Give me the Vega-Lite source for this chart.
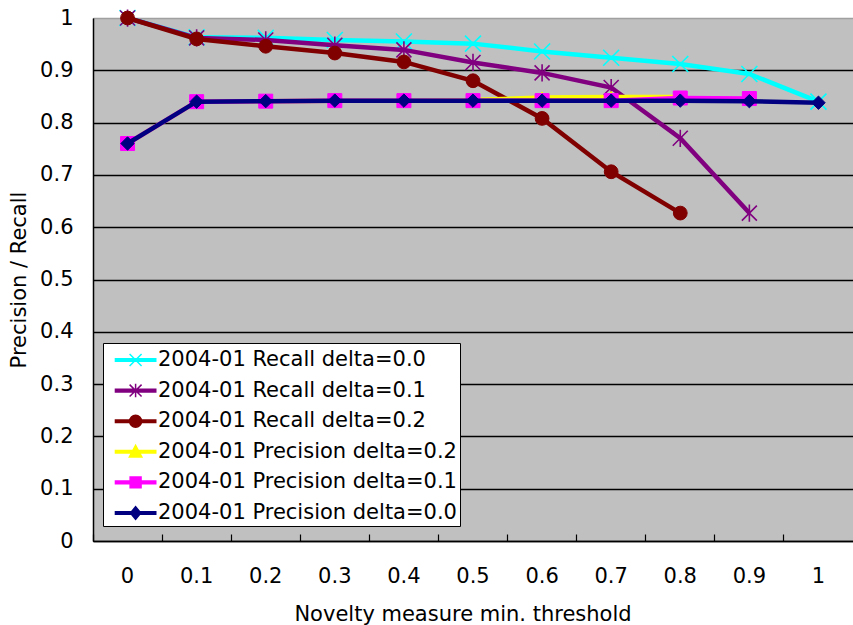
{
  "$schema": "https://vega.github.io/schema/vega-lite/v6.json",
  "width": 760,
  "height": 523,
  "autosize": "none",
  "padding": {"left": 93, "top": 18, "right": 0, "bottom": 84},
  "background": "#FFFFFF",
  "config": {
    "view": {"fill": "#C0C0C0", "stroke": "#808080", "strokeWidth": 1},
    "font": "DejaVu Sans"
  },
  "data": {
    "values": [
      {"series": "2004-01 Recall delta=0.0", "threshold": "0", "value": 1.0},
      {"series": "2004-01 Recall delta=0.0", "threshold": "0.1", "value": 0.963},
      {"series": "2004-01 Recall delta=0.0", "threshold": "0.2", "value": 0.962},
      {"series": "2004-01 Recall delta=0.0", "threshold": "0.3", "value": 0.958},
      {"series": "2004-01 Recall delta=0.0", "threshold": "0.4", "value": 0.955},
      {"series": "2004-01 Recall delta=0.0", "threshold": "0.5", "value": 0.951},
      {"series": "2004-01 Recall delta=0.0", "threshold": "0.6", "value": 0.936},
      {"series": "2004-01 Recall delta=0.0", "threshold": "0.7", "value": 0.924},
      {"series": "2004-01 Recall delta=0.0", "threshold": "0.8", "value": 0.912},
      {"series": "2004-01 Recall delta=0.0", "threshold": "0.9", "value": 0.893},
      {"series": "2004-01 Recall delta=0.0", "threshold": "1", "value": 0.840},
      {"series": "2004-01 Recall delta=0.1", "threshold": "0", "value": 1.0},
      {"series": "2004-01 Recall delta=0.1", "threshold": "0.1", "value": 0.962},
      {"series": "2004-01 Recall delta=0.1", "threshold": "0.2", "value": 0.958},
      {"series": "2004-01 Recall delta=0.1", "threshold": "0.3", "value": 0.948},
      {"series": "2004-01 Recall delta=0.1", "threshold": "0.4", "value": 0.939},
      {"series": "2004-01 Recall delta=0.1", "threshold": "0.5", "value": 0.915},
      {"series": "2004-01 Recall delta=0.1", "threshold": "0.6", "value": 0.895},
      {"series": "2004-01 Recall delta=0.1", "threshold": "0.7", "value": 0.867},
      {"series": "2004-01 Recall delta=0.1", "threshold": "0.8", "value": 0.770},
      {"series": "2004-01 Recall delta=0.1", "threshold": "0.9", "value": 0.627},
      {"series": "2004-01 Recall delta=0.2", "threshold": "0", "value": 1.0},
      {"series": "2004-01 Recall delta=0.2", "threshold": "0.1", "value": 0.960},
      {"series": "2004-01 Recall delta=0.2", "threshold": "0.2", "value": 0.946},
      {"series": "2004-01 Recall delta=0.2", "threshold": "0.3", "value": 0.933},
      {"series": "2004-01 Recall delta=0.2", "threshold": "0.4", "value": 0.916},
      {"series": "2004-01 Recall delta=0.2", "threshold": "0.5", "value": 0.880},
      {"series": "2004-01 Recall delta=0.2", "threshold": "0.6", "value": 0.808},
      {"series": "2004-01 Recall delta=0.2", "threshold": "0.7", "value": 0.706},
      {"series": "2004-01 Recall delta=0.2", "threshold": "0.8", "value": 0.627},
      {"series": "2004-01 Precision delta=0.2", "threshold": "0", "value": 0.760},
      {"series": "2004-01 Precision delta=0.2", "threshold": "0.1", "value": 0.840},
      {"series": "2004-01 Precision delta=0.2", "threshold": "0.2", "value": 0.841},
      {"series": "2004-01 Precision delta=0.2", "threshold": "0.3", "value": 0.842},
      {"series": "2004-01 Precision delta=0.2", "threshold": "0.4", "value": 0.842},
      {"series": "2004-01 Precision delta=0.2", "threshold": "0.5", "value": 0.843},
      {"series": "2004-01 Precision delta=0.2", "threshold": "0.6", "value": 0.848},
      {"series": "2004-01 Precision delta=0.2", "threshold": "0.7", "value": 0.849},
      {"series": "2004-01 Precision delta=0.2", "threshold": "0.8", "value": 0.849},
      {"series": "2004-01 Precision delta=0.1", "threshold": "0", "value": 0.760},
      {"series": "2004-01 Precision delta=0.1", "threshold": "0.1", "value": 0.840},
      {"series": "2004-01 Precision delta=0.1", "threshold": "0.2", "value": 0.841},
      {"series": "2004-01 Precision delta=0.1", "threshold": "0.3", "value": 0.842},
      {"series": "2004-01 Precision delta=0.1", "threshold": "0.4", "value": 0.842},
      {"series": "2004-01 Precision delta=0.1", "threshold": "0.5", "value": 0.842},
      {"series": "2004-01 Precision delta=0.1", "threshold": "0.6", "value": 0.842},
      {"series": "2004-01 Precision delta=0.1", "threshold": "0.7", "value": 0.842},
      {"series": "2004-01 Precision delta=0.1", "threshold": "0.8", "value": 0.847},
      {"series": "2004-01 Precision delta=0.1", "threshold": "0.9", "value": 0.846},
      {"series": "2004-01 Precision delta=0.0", "threshold": "0", "value": 0.760},
      {"series": "2004-01 Precision delta=0.0", "threshold": "0.1", "value": 0.840},
      {"series": "2004-01 Precision delta=0.0", "threshold": "0.2", "value": 0.841},
      {"series": "2004-01 Precision delta=0.0", "threshold": "0.3", "value": 0.842},
      {"series": "2004-01 Precision delta=0.0", "threshold": "0.4", "value": 0.842},
      {"series": "2004-01 Precision delta=0.0", "threshold": "0.5", "value": 0.842},
      {"series": "2004-01 Precision delta=0.0", "threshold": "0.6", "value": 0.842},
      {"series": "2004-01 Precision delta=0.0", "threshold": "0.7", "value": 0.842},
      {"series": "2004-01 Precision delta=0.0", "threshold": "0.8", "value": 0.842},
      {"series": "2004-01 Precision delta=0.0", "threshold": "0.9", "value": 0.841},
      {"series": "2004-01 Precision delta=0.0", "threshold": "1", "value": 0.838}
    ]
  },
  "encoding": {
    "x": {
      "field": "threshold",
      "type": "ordinal",
      "scale": {"type": "band", "domain": ["0", "0.1", "0.2", "0.3", "0.4", "0.5", "0.6", "0.7", "0.8", "0.9", "1"], "paddingInner": 0, "paddingOuter": 0},
      "axis": {
        "title": "Novelty measure min. threshold",
        "labelAngle": 0,
        "bandPosition": 0,
        "ticks": true,
        "tickSize": -7,
        "tickColor": "#000000",
        "tickWidth": 1.2,
        "labelPadding": 31,
        "labelFont": "DejaVu Sans",
        "labelFontSize": 21,
        "labelColor": "#000000",
        "domainColor": "#000000",
        "domainWidth": 1.5,
        "grid": false,
        "titleFont": "DejaVu Sans",
        "titleFontSize": 21,
        "titleFontWeight": "normal",
        "titleColor": "#000000",
        "titleX": 369.5,
        "titleY": 62
      }
    },
    "y": {
      "field": "value",
      "type": "quantitative",
      "scale": {"domain": [0, 1], "nice": false, "zero": true},
      "axis": {
        "title": "Precision / Recall",
        "values": [0, 0.1, 0.2, 0.3, 0.4, 0.5, 0.6, 0.7, 0.8, 0.9, 1],
        "format": ".1~f",
        "grid": true,
        "gridColor": {"condition": {"test": "datum.value >= 0.99", "value": "#A0A0A0"}, "value": "#000000"},
        "gridWidth": 1.3,
        "ticks": false,
        "labelPadding": 20,
        "labelFont": "DejaVu Sans",
        "labelFontSize": 21,
        "labelColor": "#000000",
        "domainColor": "#000000",
        "domainWidth": 1.5,
        "titleFont": "DejaVu Sans",
        "titleFontSize": 21,
        "titleFontWeight": "normal",
        "titleColor": "#000000",
        "titlePadding": 10
      }
    }
  },
  "layer": [
    {"transform": [{"filter": "datum.series === '2004-01 Recall delta=0.0'"}], "mark": {"type": "line", "color": "#00FFFF", "strokeWidth": 4.5}},
    {"transform": [{"filter": "datum.series === '2004-01 Recall delta=0.0'"}], "mark": {"type": "point", "shape": "M-1,-1L1,1M-1,1L1,-1", "filled": false, "stroke": "#00FFFF", "strokeWidth": 1.6, "size": 256, "opacity": 1}},
    {"transform": [{"filter": "datum.series === '2004-01 Recall delta=0.1'"}], "mark": {"type": "line", "color": "#800080", "strokeWidth": 4.5}},
    {"transform": [{"filter": "datum.series === '2004-01 Recall delta=0.1'"}], "mark": {"type": "point", "shape": "M-1,-1L1,1M-1,1L1,-1M0,-1.15L0,1.15", "filled": false, "stroke": "#800080", "strokeWidth": 1.6, "size": 225, "opacity": 1}},
    {"transform": [{"filter": "datum.series === '2004-01 Recall delta=0.2'"}], "mark": {"type": "line", "color": "#800000", "strokeWidth": 4.5}},
    {"transform": [{"filter": "datum.series === '2004-01 Recall delta=0.2'"}], "mark": {"type": "point", "shape": "circle", "filled": true, "fill": "#800000", "stroke": "#800000", "strokeWidth": 1, "size": 190, "opacity": 1}},
    {"transform": [{"filter": "datum.series === '2004-01 Precision delta=0.2'"}], "mark": {"type": "line", "color": "#FFFF00", "strokeWidth": 4.5}},
    {"transform": [{"filter": "datum.series === '2004-01 Precision delta=0.2'"}], "mark": {"type": "point", "shape": "triangle-up", "filled": true, "fill": "#FFFF00", "stroke": "#FFFF00", "strokeWidth": 1, "size": 170, "opacity": 1}},
    {"transform": [{"filter": "datum.series === '2004-01 Precision delta=0.1'"}], "mark": {"type": "line", "color": "#FF00FF", "strokeWidth": 4.5}},
    {"transform": [{"filter": "datum.series === '2004-01 Precision delta=0.1'"}], "mark": {"type": "point", "shape": "square", "filled": true, "fill": "#FF00FF", "stroke": "#FF00FF", "strokeWidth": 1, "size": 196, "opacity": 1}},
    {"transform": [{"filter": "datum.series === '2004-01 Precision delta=0.0'"}], "mark": {"type": "line", "color": "#000080", "strokeWidth": 4.5}},
    {"transform": [{"filter": "datum.series === '2004-01 Precision delta=0.0'"}], "mark": {"type": "point", "shape": "diamond", "filled": true, "fill": "#000080", "stroke": "#000080", "strokeWidth": 1, "size": 180, "opacity": 1}},
    {
      "transform": [{"filter": "false"}],
      "mark": {"type": "point", "filled": true, "opacity": 1, "strokeWidth": 1.5},
      "encoding": {
        "fill": {
          "field": "series", "type": "nominal",
          "scale": {
            "domain": ["2004-01 Recall delta=0.0", "2004-01 Recall delta=0.1", "2004-01 Recall delta=0.2", "2004-01 Precision delta=0.2", "2004-01 Precision delta=0.1", "2004-01 Precision delta=0.0"],
            "range": ["#00FFFF", "#800080", "#800000", "#FFFF00", "#FF00FF", "#000080"]
          },
          "legend": {"title": null, "orient": "none", "legendX": 10, "legendY": 325, "fillColor": "#FFFFFF", "strokeColor": "#000000", "padding": 3, "rowPadding": 6.6, "symbolSize": 676, "symbolStrokeWidth": 1.5, "labelOffset": 24, "labelFont": "DejaVu Sans", "labelFontSize": 21, "labelColor": "#000000", "labelLimit": 500, "labelExpr": "datum.label + '\u00a0\u00a0'"}
        },
        "stroke": {
          "field": "series", "type": "nominal",
          "scale": {
            "domain": ["2004-01 Recall delta=0.0", "2004-01 Recall delta=0.1", "2004-01 Recall delta=0.2", "2004-01 Precision delta=0.2", "2004-01 Precision delta=0.1", "2004-01 Precision delta=0.0"],
            "range": ["#00FFFF", "#800080", "#800000", "#FFFF00", "#FF00FF", "#000080"]
          },
          "legend": {"title": null, "orient": "none", "legendX": 10, "legendY": 325, "fillColor": "#FFFFFF", "strokeColor": "#000000", "padding": 3, "rowPadding": 6.6, "symbolSize": 676, "symbolStrokeWidth": 1.5, "labelOffset": 24, "labelFont": "DejaVu Sans", "labelFontSize": 21, "labelColor": "#000000", "labelLimit": 500, "labelExpr": "datum.label + '\u00a0\u00a0'"}
        },
        "shape": {
          "field": "series", "type": "nominal",
          "scale": {
            "domain": ["2004-01 Recall delta=0.0", "2004-01 Recall delta=0.1", "2004-01 Recall delta=0.2", "2004-01 Precision delta=0.2", "2004-01 Precision delta=0.1", "2004-01 Precision delta=0.0"],
            "range": [
              "M-0.35,-0.1H2.75V0.1H-0.35Z M0.74,-0.46L1.66,0.46M0.74,0.46L1.66,-0.46",
              "M-0.35,-0.1H2.75V0.1H-0.35Z M0.74,-0.46L1.66,0.46M0.74,0.46L1.66,-0.46M1.2,-0.52V0.52",
              "M-0.35,-0.1H2.75V0.1H-0.35Z M1.66,0A0.46,0.46,0,1,1,0.74,0A0.46,0.46,0,1,1,1.66,0Z",
              "M-0.35,-0.1H2.75V0.1H-0.35Z M1.2,-0.5L1.68,0.4H0.72Z",
              "M-0.35,-0.1H2.75V0.1H-0.35Z M0.78,-0.42H1.62V0.42H0.78Z",
              "M-0.35,-0.1H2.75V0.1H-0.35Z M1.2,-0.48L1.6,0L1.2,0.48L0.8,0Z"
            ]
          },
          "legend": {"title": null, "orient": "none", "legendX": 10, "legendY": 325, "fillColor": "#FFFFFF", "strokeColor": "#000000", "padding": 3, "rowPadding": 6.6, "symbolSize": 676, "symbolStrokeWidth": 1.5, "labelOffset": 24, "labelFont": "DejaVu Sans", "labelFontSize": 21, "labelColor": "#000000", "labelLimit": 500, "labelExpr": "datum.label + '\u00a0\u00a0'"}
        }
      }
    }
  ]
}
